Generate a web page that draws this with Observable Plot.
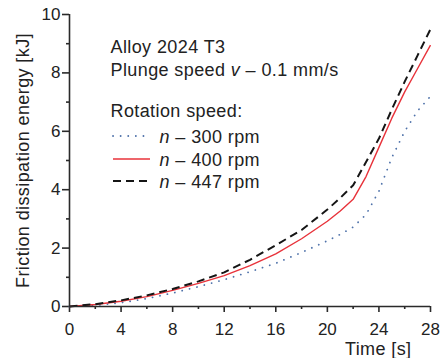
<!DOCTYPE html>
<html><head><meta charset="utf-8">
<script src="https://cdn.jsdelivr.net/npm/d3@7"></script>
<script src="https://cdn.jsdelivr.net/npm/@observablehq/plot@0.6"></script>
<style>
body{margin:0;background:#fff}
#chart svg{font-family:"Liberation Sans",Arial,Helvetica,sans-serif;color:#222;background:#fff}
</style>
</head><body><div id="chart"></div>
<script>
const time = [0, 2, 4, 6, 8, 10, 12, 14, 16, 18, 20, 21, 22, 23, 24, 25, 26, 27, 28];
const e300 = [0, 0.04, 0.13, 0.27, 0.46, 0.68, 0.92, 1.19, 1.48, 1.85, 2.25, 2.47, 2.72, 3.15, 3.95, 5.1, 6.0, 6.7, 7.2];
const e400 = [0, 0.07, 0.18, 0.34, 0.55, 0.79, 1.06, 1.4, 1.8, 2.32, 2.92, 3.27, 3.67, 4.45, 5.45, 6.45, 7.35, 8.15, 8.95];
const e447 = [0, 0.08, 0.21, 0.38, 0.6, 0.86, 1.17, 1.6, 2.1, 2.62, 3.32, 3.72, 4.15, 4.95, 5.75, 6.75, 7.7, 8.6, 9.5];
const xTicks = [0, 4, 8, 12, 16, 20, 24, 28];
const xMinor = [2, 6, 10, 14, 18, 22, 26];
const yTicks = [0, 2, 4, 6, 8, 10];
const yMinor = [1, 3, 5, 7, 9];
const infoLines = ["Alloy 2024 T3", "Plunge speed v – 0.1 mm/s", "Rotation speed:"];
const seriesNames = ["n – 300 rpm", "n – 400 rpm", "n – 447 rpm"];
const xLabel = "Time [s]";
const yLabel = "Friction dissipation energy [kJ]";

const seriesStyles = [
  {values: e300, stroke: "#4f72aa", strokeWidth: 1.8, dash: "0.1 7.5", cap: "round"},
  {values: e400, stroke: "#e8323a", strokeWidth: 1.4, dash: null, cap: "butt"},
  {values: e447, stroke: "#151515", strokeWidth: 2, dash: "8 5", cap: "butt"}
];

const W = 444, H = 358;
const mL = 69, mR = 14, mT = 14, mB = 52;
const textFont = 18;
const axisColor = "#2a2a2a";

const marks = [
  Plot.axisX({ticks: xTicks, tickSize: 6, tickPadding: 10, fontSize: 17, label: null, stroke: axisColor, strokeWidth: 1.6, fill: "#222"}),
  Plot.axisX({ticks: xMinor, tickSize: 3, tickPadding: 0, tickFormat: () => "", label: null, stroke: axisColor, strokeWidth: 1.6}),
  Plot.axisY({ticks: yTicks, tickSize: 7, tickPadding: 2, fontSize: 17, label: null, stroke: axisColor, strokeWidth: 1.6, fill: "#222"}),
  Plot.axisY({ticks: yMinor, tickSize: 3, tickPadding: 0, tickFormat: () => "", label: null, stroke: axisColor, strokeWidth: 1.6}),
  ...seriesStyles.map(s => Plot.line(time.map((t, i) => ({t, e: s.values[i]})), {
    x: "t", y: "e", stroke: s.stroke, strokeWidth: s.strokeWidth,
    strokeDasharray: s.dash, strokeLinecap: s.cap, strokeLinejoin: "round", curve: "linear"
  })),
  Plot.ruleX([0], {stroke: axisColor, strokeWidth: 1.6}),
  Plot.ruleY([0], {stroke: axisColor, strokeWidth: 1.6}),
  Plot.text([yLabel], {text: d => d, frameAnchor: "left", rotate: -90, textAnchor: "middle", lineAnchor: "middle", dx: -46, fontSize: textFont, fill: "#222"}),
  Plot.text([xLabel], {text: d => d, frameAnchor: "bottom-right", textAnchor: "end", lineAnchor: "middle", dx: -19, dy: 43, fontSize: textFont, fill: "#222"}),
  ...infoLines.map((s, i) => Plot.text([s], {text: d => d, frameAnchor: "top-left", textAnchor: "start", lineAnchor: "middle", dx: 41, dy: [33, 56, 97][i], fontSize: textFont, fill: "#222"})),
  ...seriesNames.map((s, i) => Plot.text([s], {text: d => d, frameAnchor: "top-left", textAnchor: "start", lineAnchor: "middle", dx: 90, dy: [123, 146, 168][i], fontSize: textFont, fill: "#222"}))
];

const chart = Plot.plot({
  width: W, height: H,
  marginLeft: mL, marginRight: mR, marginTop: mT, marginBottom: mB,
  x: {domain: [0, 28]},
  y: {domain: [0, 10]},
  style: {fontFamily: '"Liberation Sans", Arial, Helvetica, sans-serif', background: "#fff"},
  marks
});

const svg = d3.select(chart);
svg.selectAll("text").each(function() {
  const t = this.textContent;
  const el = d3.select(this);
  if (/^n – /.test(t)) {
    el.text(null);
    el.append("tspan").attr("font-style", "italic").text("n");
    el.append("tspan").text(t.slice(1));
  } else if (t.includes(" v – ")) {
    const k = t.indexOf(" v – ");
    el.text(null);
    el.append("tspan").text(t.slice(0, k + 1));
    el.append("tspan").attr("font-style", "italic").text("v");
    el.append("tspan").text(t.slice(k + 2));
  }
  if (t.length > 2 && !/^\d+$/.test(t)) el.attr("letter-spacing", "0.4");
});

// legend swatches beside the series labels
const sw = svg.append("g").attr("class", "legend-swatches");
seriesStyles.forEach((s, i) => {
  const y = mT + [123, 146, 168][i] - 1;
  sw.append("line")
    .attr("x1", 113).attr("x2", 150).attr("y1", y).attr("y2", y)
    .attr("stroke", s.stroke).attr("stroke-width", s.strokeWidth)
    .attr("stroke-dasharray", s.dash).attr("stroke-linecap", s.cap);
});

document.getElementById("chart").appendChild(chart);
</script>
</body></html>
